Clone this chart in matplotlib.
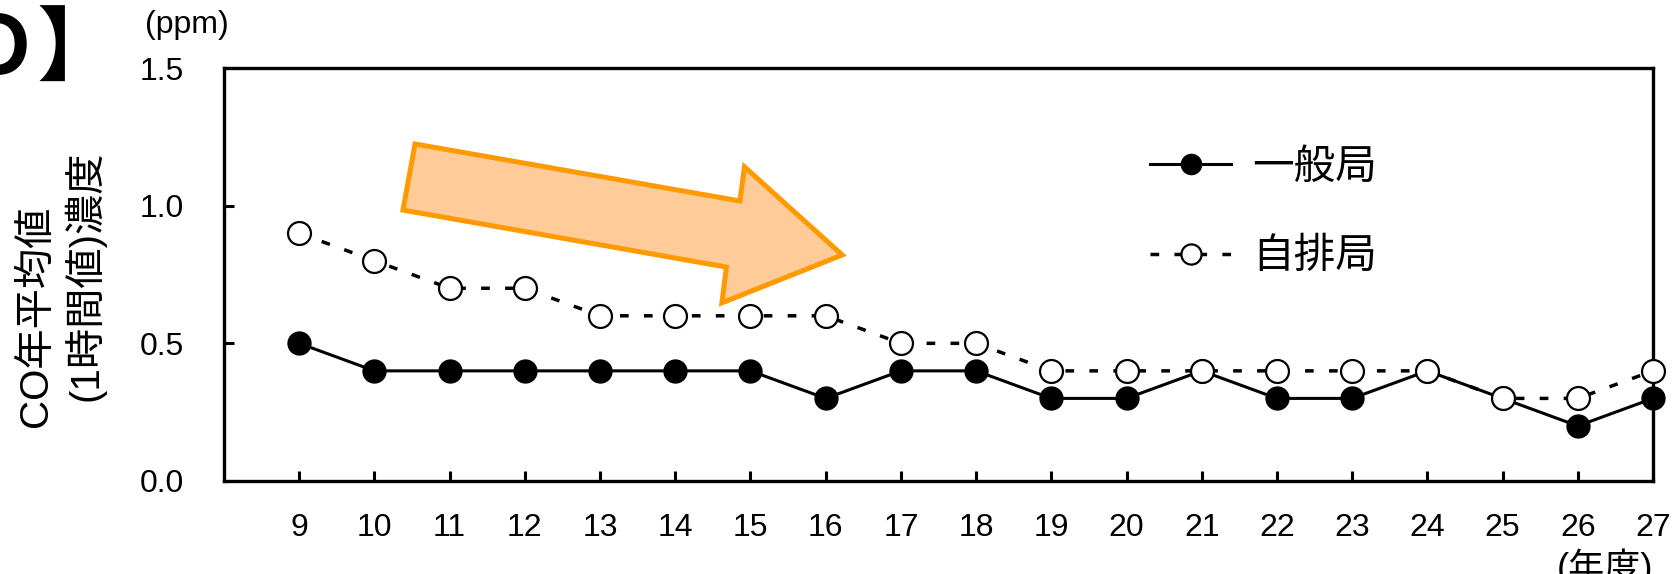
import matplotlib.pyplot as plt
from matplotlib.patches import Polygon

plt.rcParams["font.family"] = ["Liberation Sans", "Noto Sans CJK JP"]

# 年度 (平成) と CO 年平均値 (ppm)
years = [9, 10, 11, 12, 13, 14, 15, 16, 17, 18, 19, 20, 21, 22, 23, 24, 25, 26, 27]
ippan = [0.5, 0.4, 0.4, 0.4, 0.4, 0.4, 0.4, 0.3, 0.4, 0.4,
         0.3, 0.3, 0.4, 0.3, 0.3, 0.4, 0.3, 0.2, 0.3]
jihai = [0.9, 0.8, 0.7, 0.7, 0.6, 0.6, 0.6, 0.6, 0.5, 0.5,
         0.4, 0.4, 0.4, 0.4, 0.4, 0.4, 0.3, 0.3, 0.4]
yticks = [0.0, 0.5, 1.0, 1.5]

# decreasing-trend arrow, in data units
arrow_xy = [(10.54, 1.224), (14.86, 1.017), (14.92, 1.141), (16.22, 0.821),
            (14.62, 0.647), (14.68, 0.777), (10.38, 0.984)]

W, H = 1674, 574
fig = plt.figure(figsize=(W / 100, H / 100), dpi=100)
ax = fig.add_axes([224 / W, 1 - 481 / H, (1653 - 224) / W, (481 - 68) / H])

ax.add_patch(Polygon(arrow_xy, closed=True, facecolor="#FFCC99",
                     edgecolor="#FF9900", linewidth=3.6, zorder=1))

ax.plot(years, ippan, color="black", linewidth=2.2, marker="o",
        markersize=16.5, markerfacecolor="black", markeredgecolor="black",
        label="一般局", zorder=3, clip_on=False)
ax.plot(years, jihai, color="black", linewidth=2.5, linestyle=(0, (2.5, 4.4)),
        marker="o", markersize=16.5, markerfacecolor="white",
        markeredgecolor="black", markeredgewidth=1.6,
        label="自排局", zorder=4, clip_on=False)

ax.set_xlim(8, 27)
ax.set_ylim(0, 1.5)
ax.set_xticks(years)
ax.set_yticks(yticks)
ax.set_yticklabels([f"{v:.1f}" for v in yticks])
ax.tick_params(axis="both", direction="in", length=7, width=2.2, labelsize=23)
ax.tick_params(axis="x", pad=23)
ax.tick_params(axis="y", pad=29)
for sp in ax.spines.values():
    sp.set_linewidth(2.4)

ax.legend(loc="upper left", bbox_to_anchor=(1150 / W, 1 - 148 / H),
          bbox_transform=fig.transFigure, frameon=False, fontsize=30,
          handlelength=1.95, handletextpad=0.5, labelspacing=1.18,
          borderpad=0, borderaxespad=0, markerscale=0.88)

fig.text(36 / W, 1 - 316 / H, "CO年平均値", rotation=90, fontsize=29,
         ha="center", va="center")
fig.text(84 / W, 1 - 276 / H, "(1時間値)濃度", rotation=90, fontsize=29,
         ha="center", va="center")
fig.text(145 / W, 1 - 25 / H, "(ppm)", fontsize=23, ha="left", va="center")
fig.text(1605 / W, 1 - 568 / H, "(年度)", fontsize=26, ha="center", va="center")
fig.text(119 / W, 1 - 74 / H, "【ＣＯ】", fontsize=58, fontweight="bold",
         ha="right", va="baseline")

fig.savefig("out.png", dpi=100)
